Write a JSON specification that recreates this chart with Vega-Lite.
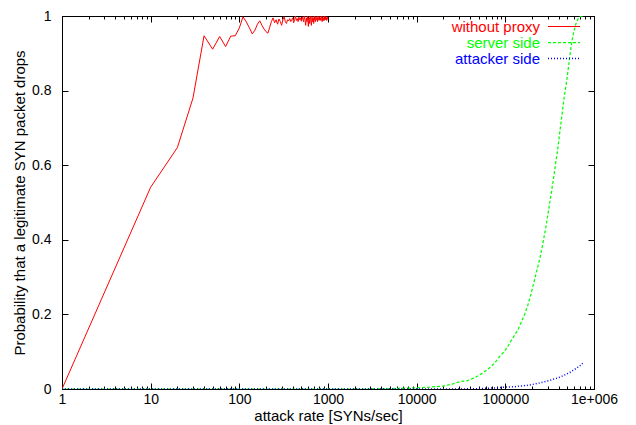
{
  "$schema": "https://vega.github.io/schema/vega-lite/v6.json",
  "width": 532,
  "height": 373,
  "autosize": "none",
  "padding": {"left": 62, "top": 16, "right": 42, "bottom": 36},
  "background": "white",
  "config": {
    "view": {"stroke": "black", "strokeWidth": 1},
    "font": "Liberation Sans",
    "axis": {
      "grid": false,
      "domainColor": "black",
      "tickColor": "black",
      "labelColor": "black",
      "titleColor": "black",
      "labelFont": "Liberation Sans",
      "titleFont": "Liberation Sans",
      "labelFontSize": 14,
      "titleFontSize": 15,
      "titleFontWeight": "normal",
      "tickWidth": 1,
      "domainWidth": 1
    }
  },
  "datasets": {
    "curves": [
      {"s": "without proxy", "x": 1, "y": 0},
      {"s": "without proxy", "x": 10, "y": 0.541},
      {"s": "without proxy", "x": 20, "y": 0.647},
      {"s": "without proxy", "x": 30, "y": 0.78},
      {"s": "without proxy", "x": 40, "y": 0.947},
      {"s": "without proxy", "x": 50, "y": 0.911},
      {"s": "without proxy", "x": 60, "y": 0.945},
      {"s": "without proxy", "x": 70, "y": 0.918},
      {"s": "without proxy", "x": 80, "y": 0.946},
      {"s": "without proxy", "x": 90, "y": 0.947},
      {"s": "without proxy", "x": 100, "y": 0.968},
      {"s": "without proxy", "x": 110, "y": 0.998},
      {"s": "without proxy", "x": 120, "y": 0.984},
      {"s": "without proxy", "x": 130, "y": 0.968},
      {"s": "without proxy", "x": 140, "y": 0.952},
      {"s": "without proxy", "x": 150, "y": 0.962},
      {"s": "without proxy", "x": 160, "y": 0.978},
      {"s": "without proxy", "x": 170, "y": 0.987},
      {"s": "without proxy", "x": 180, "y": 0.975},
      {"s": "without proxy", "x": 190, "y": 0.965},
      {"s": "without proxy", "x": 200, "y": 0.958},
      {"s": "without proxy", "x": 210, "y": 0.954},
      {"s": "without proxy", "x": 220, "y": 0.97},
      {"s": "without proxy", "x": 230, "y": 0.985},
      {"s": "without proxy", "x": 240, "y": 0.995},
      {"s": "without proxy", "x": 250, "y": 0.982},
      {"s": "without proxy", "x": 260, "y": 0.99},
      {"s": "without proxy", "x": 270, "y": 0.978},
      {"s": "without proxy", "x": 280, "y": 0.992},
      {"s": "without proxy", "x": 290, "y": 0.985},
      {"s": "without proxy", "x": 300, "y": 0.975},
      {"s": "without proxy", "x": 310, "y": 0.99},
      {"s": "without proxy", "x": 320, "y": 0.998},
      {"s": "without proxy", "x": 330, "y": 0.985},
      {"s": "without proxy", "x": 340, "y": 0.98},
      {"s": "without proxy", "x": 350, "y": 0.99},
      {"s": "without proxy", "x": 360, "y": 0.987},
      {"s": "without proxy", "x": 370, "y": 0.993},
      {"s": "without proxy", "x": 380, "y": 0.985},
      {"s": "without proxy", "x": 390, "y": 0.99},
      {"s": "without proxy", "x": 400, "y": 0.995},
      {"s": "without proxy", "x": 410, "y": 0.982},
      {"s": "without proxy", "x": 420, "y": 0.99},
      {"s": "without proxy", "x": 430, "y": 1.0},
      {"s": "without proxy", "x": 440, "y": 0.988},
      {"s": "without proxy", "x": 450, "y": 0.993},
      {"s": "without proxy", "x": 460, "y": 0.985},
      {"s": "without proxy", "x": 470, "y": 0.997},
      {"s": "without proxy", "x": 480, "y": 0.99},
      {"s": "without proxy", "x": 490, "y": 0.995},
      {"s": "without proxy", "x": 500, "y": 0.986},
      {"s": "without proxy", "x": 510, "y": 0.998},
      {"s": "without proxy", "x": 520, "y": 0.992},
      {"s": "without proxy", "x": 530, "y": 0.985},
      {"s": "without proxy", "x": 540, "y": 1.0},
      {"s": "without proxy", "x": 550, "y": 0.99},
      {"s": "without proxy", "x": 560, "y": 0.975},
      {"s": "without proxy", "x": 570, "y": 0.995},
      {"s": "without proxy", "x": 580, "y": 0.985},
      {"s": "without proxy", "x": 590, "y": 1.0},
      {"s": "without proxy", "x": 600, "y": 0.972},
      {"s": "without proxy", "x": 610, "y": 0.995},
      {"s": "without proxy", "x": 620, "y": 0.98},
      {"s": "without proxy", "x": 630, "y": 1.0},
      {"s": "without proxy", "x": 640, "y": 0.988},
      {"s": "without proxy", "x": 650, "y": 0.975},
      {"s": "without proxy", "x": 660, "y": 0.998},
      {"s": "without proxy", "x": 670, "y": 0.985},
      {"s": "without proxy", "x": 680, "y": 0.995},
      {"s": "without proxy", "x": 690, "y": 0.98},
      {"s": "without proxy", "x": 700, "y": 1.0},
      {"s": "without proxy", "x": 710, "y": 0.99},
      {"s": "without proxy", "x": 720, "y": 0.985},
      {"s": "without proxy", "x": 730, "y": 0.998},
      {"s": "without proxy", "x": 740, "y": 0.99},
      {"s": "without proxy", "x": 750, "y": 0.995},
      {"s": "without proxy", "x": 760, "y": 0.985},
      {"s": "without proxy", "x": 770, "y": 1.0},
      {"s": "without proxy", "x": 780, "y": 0.992},
      {"s": "without proxy", "x": 790, "y": 0.988},
      {"s": "without proxy", "x": 800, "y": 0.998},
      {"s": "without proxy", "x": 810, "y": 0.99},
      {"s": "without proxy", "x": 820, "y": 0.995},
      {"s": "without proxy", "x": 830, "y": 0.988},
      {"s": "without proxy", "x": 840, "y": 1.0},
      {"s": "without proxy", "x": 850, "y": 0.993},
      {"s": "without proxy", "x": 860, "y": 0.985},
      {"s": "without proxy", "x": 870, "y": 0.998},
      {"s": "without proxy", "x": 880, "y": 0.99},
      {"s": "without proxy", "x": 890, "y": 0.995},
      {"s": "without proxy", "x": 900, "y": 0.987},
      {"s": "without proxy", "x": 910, "y": 1.0},
      {"s": "without proxy", "x": 920, "y": 0.993},
      {"s": "without proxy", "x": 930, "y": 0.99},
      {"s": "without proxy", "x": 940, "y": 0.998},
      {"s": "without proxy", "x": 950, "y": 0.99},
      {"s": "without proxy", "x": 960, "y": 0.995},
      {"s": "without proxy", "x": 970, "y": 0.988},
      {"s": "without proxy", "x": 980, "y": 0.998},
      {"s": "without proxy", "x": 990, "y": 0.992},
      {"s": "without proxy", "x": 1000, "y": 0.996},
      {"s": "server side", "x": 1, "y": 0},
      {"s": "server side", "x": 10, "y": 0},
      {"s": "server side", "x": 100, "y": 0},
      {"s": "server side", "x": 1000, "y": 0},
      {"s": "server side", "x": 3000, "y": 0},
      {"s": "server side", "x": 5000, "y": 0.001},
      {"s": "server side", "x": 7000, "y": 0.002},
      {"s": "server side", "x": 10000, "y": 0.003},
      {"s": "server side", "x": 14000, "y": 0.005},
      {"s": "server side", "x": 20000, "y": 0.008},
      {"s": "server side", "x": 25000, "y": 0.013},
      {"s": "server side", "x": 31000, "y": 0.02},
      {"s": "server side", "x": 37000, "y": 0.022},
      {"s": "server side", "x": 44000, "y": 0.029},
      {"s": "server side", "x": 50000, "y": 0.036},
      {"s": "server side", "x": 58000, "y": 0.046},
      {"s": "server side", "x": 66000, "y": 0.056},
      {"s": "server side", "x": 75000, "y": 0.069},
      {"s": "server side", "x": 82000, "y": 0.08},
      {"s": "server side", "x": 89000, "y": 0.091},
      {"s": "server side", "x": 97000, "y": 0.1},
      {"s": "server side", "x": 106000, "y": 0.113},
      {"s": "server side", "x": 114000, "y": 0.126},
      {"s": "server side", "x": 121000, "y": 0.136},
      {"s": "server side", "x": 130000, "y": 0.148},
      {"s": "server side", "x": 138000, "y": 0.158},
      {"s": "server side", "x": 150000, "y": 0.177},
      {"s": "server side", "x": 165000, "y": 0.2},
      {"s": "server side", "x": 180000, "y": 0.226},
      {"s": "server side", "x": 195000, "y": 0.255},
      {"s": "server side", "x": 209000, "y": 0.284},
      {"s": "server side", "x": 228000, "y": 0.32},
      {"s": "server side", "x": 246000, "y": 0.352},
      {"s": "server side", "x": 265000, "y": 0.39},
      {"s": "server side", "x": 287000, "y": 0.435},
      {"s": "server side", "x": 307000, "y": 0.478},
      {"s": "server side", "x": 327000, "y": 0.52},
      {"s": "server side", "x": 342000, "y": 0.55},
      {"s": "server side", "x": 356000, "y": 0.578},
      {"s": "server side", "x": 372000, "y": 0.61},
      {"s": "server side", "x": 388000, "y": 0.64},
      {"s": "server side", "x": 412000, "y": 0.69},
      {"s": "server side", "x": 437000, "y": 0.738},
      {"s": "server side", "x": 462000, "y": 0.784},
      {"s": "server side", "x": 495000, "y": 0.83},
      {"s": "server side", "x": 527000, "y": 0.882},
      {"s": "server side", "x": 550000, "y": 0.915},
      {"s": "server side", "x": 575000, "y": 0.944},
      {"s": "server side", "x": 600000, "y": 0.963},
      {"s": "server side", "x": 627000, "y": 0.98},
      {"s": "server side", "x": 660000, "y": 0.992},
      {"s": "server side", "x": 690000, "y": 0.997},
      {"s": "server side", "x": 713000, "y": 1.0},
      {"s": "server side", "x": 740000, "y": 1.0},
      {"s": "server side", "x": 764000, "y": 1.0},
      {"s": "attacker side", "x": 1, "y": 0},
      {"s": "attacker side", "x": 10, "y": 0},
      {"s": "attacker side", "x": 100, "y": 0},
      {"s": "attacker side", "x": 1000, "y": 0},
      {"s": "attacker side", "x": 10000, "y": 0},
      {"s": "attacker side", "x": 30000, "y": 0},
      {"s": "attacker side", "x": 50000, "y": 0.001},
      {"s": "attacker side", "x": 80000, "y": 0.003},
      {"s": "attacker side", "x": 100000, "y": 0.005},
      {"s": "attacker side", "x": 125000, "y": 0.006},
      {"s": "attacker side", "x": 150000, "y": 0.008},
      {"s": "attacker side", "x": 180000, "y": 0.01},
      {"s": "attacker side", "x": 210000, "y": 0.013},
      {"s": "attacker side", "x": 251000, "y": 0.017},
      {"s": "attacker side", "x": 290000, "y": 0.021},
      {"s": "attacker side", "x": 327000, "y": 0.024},
      {"s": "attacker side", "x": 370000, "y": 0.028},
      {"s": "attacker side", "x": 424000, "y": 0.033},
      {"s": "attacker side", "x": 480000, "y": 0.039},
      {"s": "attacker side", "x": 550000, "y": 0.046},
      {"s": "attacker side", "x": 600000, "y": 0.052},
      {"s": "attacker side", "x": 653000, "y": 0.058},
      {"s": "attacker side", "x": 700000, "y": 0.063},
      {"s": "attacker side", "x": 745000, "y": 0.069}
    ]
  },
  "data": {"name": "curves"},
  "layer": [
    {
      "mark": {"type": "line", "clip": true},
      "encoding": {
        "x": {
          "field": "x", "type": "quantitative",
          "scale": {"type": "log", "domain": [1, 1000000], "nice": false},
          "axis": {
            "orient": "bottom",
            "title": "attack rate [SYNs/sec]",
            "values": [1,2,3,4,5,6,7,8,9,10,20,30,40,50,60,70,80,90,100,200,300,400,500,600,700,800,900,1000,2000,3000,4000,5000,6000,7000,8000,9000,10000,20000,30000,40000,50000,60000,70000,80000,90000,100000,200000,300000,400000,500000,600000,700000,800000,900000,1000000],
            "labelExpr": "datum.value == 1000000 ? '1e+006' : (indexof([1,10,100,1000,10000,100000], datum.value) >= 0 ? format(datum.value, 'd') : '')",
            "tickSize": {"condition": {"test": "indexof([1,10,100,1000,10000,100000,1000000], datum.value) >= 0", "value": -6}, "value": -3},
            "labelPadding": 9,
            "labelOverlap": false,
            "labelFlush": false,
            "labelBound": false,
            "titlePadding": -1
          }
        },
        "y": {
          "field": "y", "type": "quantitative",
          "scale": {"domain": [0, 1], "nice": false},
          "axis": {
            "orient": "left",
            "title": "Probability that a legitimate SYN packet drops",
            "values": [0, 0.2, 0.4, 0.6, 0.8, 1],
            "format": "~g",
            "tickSize": -6,
            "labelPadding": 17,
            "labelFlush": false,
            "labelOverlap": false,
            "titlePadding": 4
          }
        },
        "color": {
          "field": "s", "type": "nominal",
          "scale": {"domain": ["without proxy", "server side", "attacker side"], "range": ["#ff0000", "#00ff00", "#0000ff"]},
          "legend": {
            "title": null, "orient": "none", "legendX": 478, "legendY": 3,
            "symbolType": "M-4,0H4", "symbolSize": 64, "symbolStrokeWidth": 1,
            "labelFontSize": 15, "labelFont": "Liberation Sans", "labelAlign": "right",
            "rowPadding": 0, "padding": 0, "labelLimit": 300,
            "encode": {
              "symbols": {"update": {"x": {"value": 24}, "stroke": {"scale": "color", "field": "value"}, "strokeWidth": {"value": 1}, "strokeDash": {"scale": "strokeDash", "field": "value"}}},
              "labels": {"update": {"x": {"value": 0}, "fill": {"scale": "color", "field": "value"}}}
            }
          }
        },
        "strokeDash": {
          "field": "s", "type": "nominal",
          "scale": {"domain": ["without proxy", "server side", "attacker side"], "range": [[], [3, 2], [1, 2]]},
          "legend": null
        },
        "strokeWidth": {
          "field": "s", "type": "nominal",
          "scale": {"domain": ["without proxy", "server side", "attacker side"], "range": [1, 1.5, 1.5]},
          "legend": null
        }
      }
    },
    {
      "transform": [{"filter": "false"}],
      "mark": {"type": "line"},
      "encoding": {
        "x": {
          "field": "x", "type": "quantitative",
          "axis": {
            "orient": "top",
            "title": null,
            "labels": false,
            "values": [1,2,3,4,5,6,7,8,9,10,20,30,40,50,60,70,80,90,100,200,300,400,500,600,700,800,900,1000,2000,3000,4000,5000,6000,7000,8000,9000,10000,20000,30000,40000,50000,60000,70000,80000,90000,100000,200000,300000,400000,500000,600000,700000,800000,900000,1000000],
            "tickSize": {"condition": {"test": "indexof([1,10,100,1000,10000,100000,1000000], datum.value) >= 0", "value": -6}, "value": -3}
          }
        },
        "y": {
          "field": "y", "type": "quantitative",
          "axis": {
            "orient": "right",
            "title": null,
            "labels": false,
            "values": [0, 0.2, 0.4, 0.6, 0.8, 1],
            "tickSize": -6
          }
        }
      }
    }
  ],
  "resolve": {"axis": {"x": "independent", "y": "independent"}}
}
